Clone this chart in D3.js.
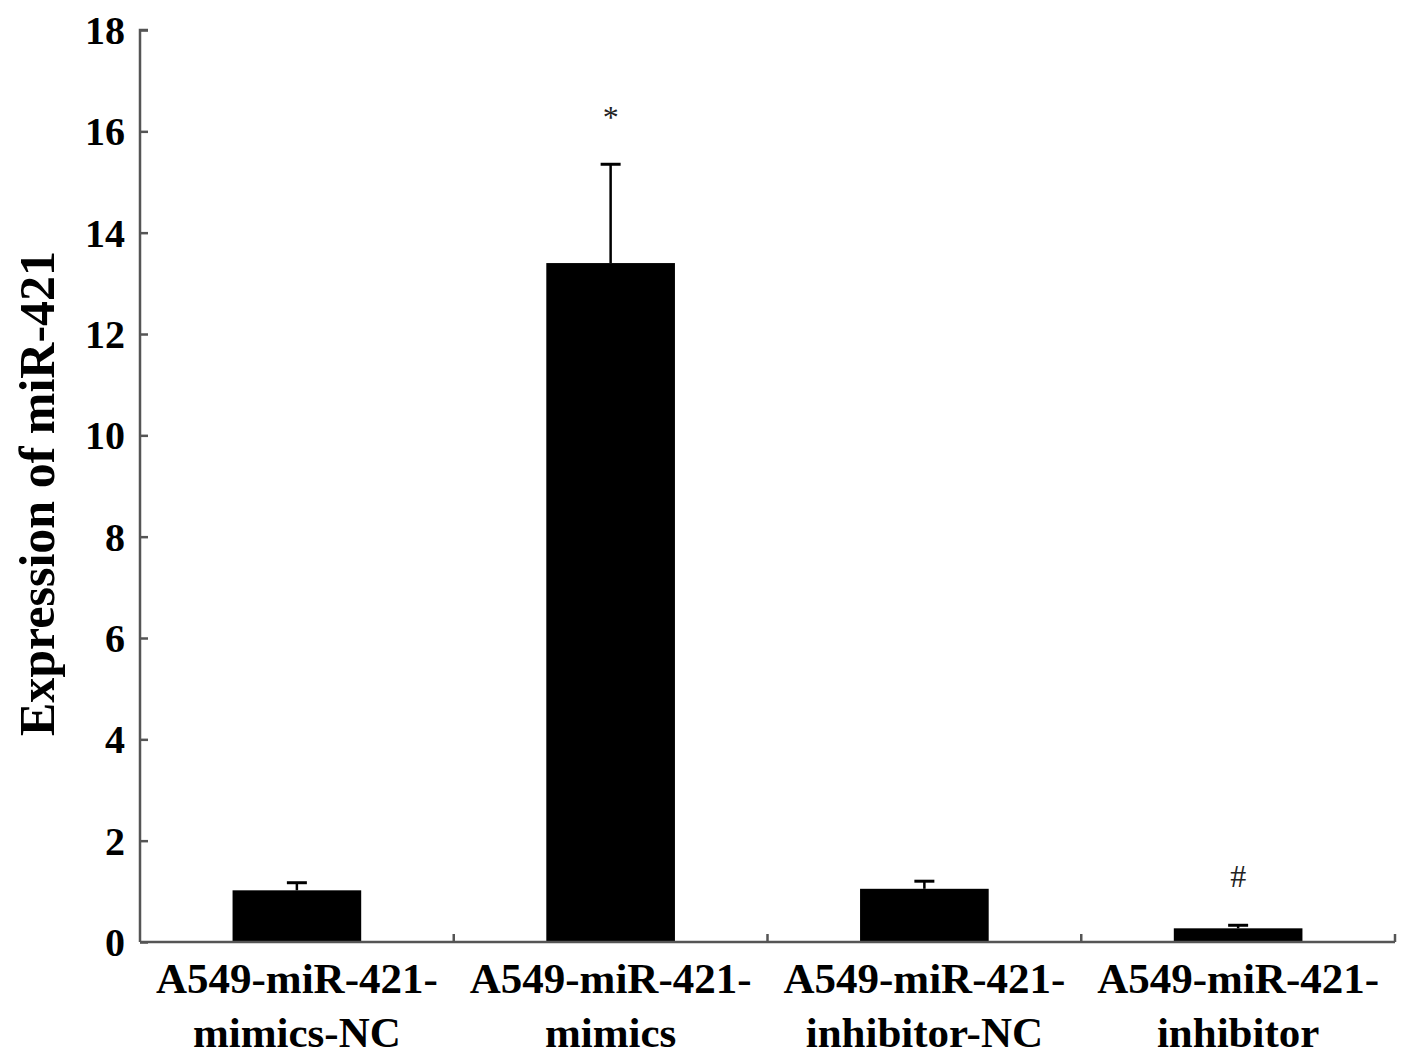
<!DOCTYPE html>
<html>
<head>
<meta charset="utf-8">
<script src="https://cdn.jsdelivr.net/npm/d3@7"></script>
<style>
  html, body { margin: 0; padding: 0; background: #fff; }
  svg { display: block; }
  text { font-family: "Liberation Serif", "Times New Roman", serif; }
</style>
</head>
<body>
<svg id="chart" width="1417" height="1055"></svg>
<script>
const categories = [
  ["A549-miR-421-", "mimics-NC"],
  ["A549-miR-421-", "mimics"],
  ["A549-miR-421-", "inhibitor-NC"],
  ["A549-miR-421-", "inhibitor"]
];
const values = [1.02, 13.4, 1.05, 0.27];
const errors = [0.15, 1.95, 0.15, 0.06];
const marks = ["", "*", "", "#"];
const yTicks = [0, 2, 4, 6, 8, 10, 12, 14, 16, 18];
const yTitle = "Expression of miR-421";

(function () {
const svg = d3.select("#chart");
const mLeft = 140, mRight = 1395, mTop = 30, mBottom = 942;

const x = d3.scaleBand().domain(d3.range(categories.length)).range([mLeft, mRight]).paddingInner(0).paddingOuter(0);
const y = d3.scaleLinear().domain([0, 18]).range([mBottom, mTop]);
const barW = x.bandwidth() * 0.41;

const axisColor = "#555";

// Bars
svg.append("g").selectAll("rect").data(values).join("rect")
  .attr("x", (d, i) => x(i) + x.bandwidth() / 2 - barW / 2)
  .attr("y", d => y(d))
  .attr("width", barW)
  .attr("height", d => y(0) - y(d))
  .attr("fill", "#000");

// Error bars (upper only)
const eg = svg.append("g").attr("stroke", "#000").attr("stroke-width", 2.5);
values.forEach((v, i) => {
  const cx = x(i) + x.bandwidth() / 2;
  eg.append("line").attr("x1", cx).attr("x2", cx).attr("y1", y(v)).attr("y2", y(v + errors[i]));
  eg.append("line").attr("x1", cx - 10).attr("x2", cx + 10).attr("y1", y(v + errors[i])).attr("y2", y(v + errors[i])).attr("stroke-width", 3);
});

// Significance marks
svg.append("g").selectAll("text").data(marks).join("text")
  .attr("x", (d, i) => x(i) + x.bandwidth() / 2)
  .attr("y", (d, i) => y(values[i] + errors[i]) - (i === 1 ? 36 : 38))
  .attr("text-anchor", "middle")
  .attr("font-size", (d, i) => i === 1 ? 32 : 32)
  .attr("fill", "#222")
  .text(d => d);

// Y axis
const yAxis = d3.axisRight(y).tickValues(yTicks).tickSize(8).tickFormat("");
const yg = svg.append("g").attr("transform", `translate(${mLeft},0)`).call(yAxis);
yg.select(".domain").attr("stroke", axisColor).attr("stroke-width", 2.5).attr("d", `M8,${mTop}H0V${mBottom}`);
yg.selectAll(".tick line").attr("stroke", axisColor).attr("stroke-width", 2.5);

// Y tick labels
svg.append("g").selectAll("text").data(yTicks).join("text")
  .attr("x", 125)
  .attr("y", d => y(d))
  .attr("dy", "0.35em")
  .attr("text-anchor", "end")
  .attr("font-size", 40)
  .attr("font-weight", "bold")
  .attr("fill", "#000")
  .text(d => d);

// X axis
const xBounds = d3.range(categories.length).map(i => x(i) + x.bandwidth());
const xg = svg.append("g");
xg.append("line").attr("x1", mLeft).attr("x2", mRight).attr("y1", mBottom).attr("y2", mBottom)
  .attr("stroke", axisColor).attr("stroke-width", 2.5);
xg.selectAll("line.tk").data(xBounds).join("line").attr("class", "tk")
  .attr("x1", d => d).attr("x2", d => d).attr("y1", mBottom).attr("y2", mBottom - 8)
  .attr("stroke", axisColor).attr("stroke-width", 2.5);

// X labels
const xl = svg.append("g").selectAll("text").data(categories).join("text")
  .attr("x", (d, i) => x(i) + x.bandwidth() / 2)
  .attr("y", 993)
  .attr("text-anchor", "middle")
  .attr("font-size", 43)
  .attr("font-weight", "bold")
  .attr("fill", "#000");
xl.each(function(d) {
  const t = d3.select(this);
  const cx = t.attr("x");
  d.forEach((line, j) => {
    t.append("tspan").attr("x", cx).attr("dy", j === 0 ? 0 : 54).text(line);
  });
});

// Y title
svg.append("text")
  .attr("transform", `translate(54,${(252 + 735) / 2}) rotate(-90)`)
  .attr("text-anchor", "middle")
  .attr("font-size", 50)
  .attr("font-weight", "bold")
  .attr("fill", "#000")
  .text(yTitle);
})();
</script>
</body>
</html>
